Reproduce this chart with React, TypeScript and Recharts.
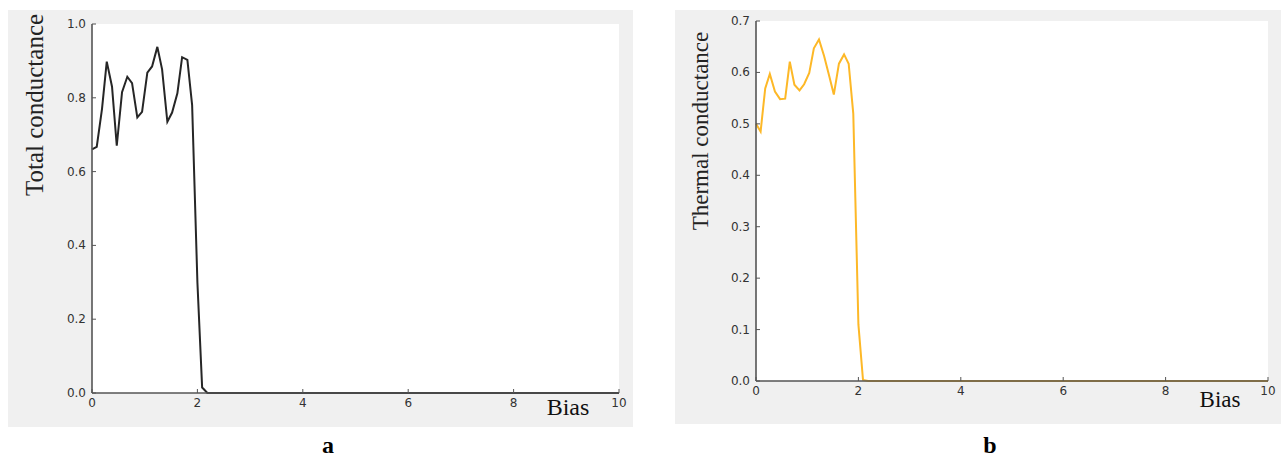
import React from 'react'
import { LineChart, Line, XAxis, YAxis, CartesianGrid } from 'recharts'

// panel a
const biasA = [0, 0.09, 0.19, 0.28, 0.38, 0.47, 0.57, 0.67, 0.76, 0.86, 0.95, 1.05, 1.14, 1.24, 1.33, 1.43, 1.52, 1.62, 1.71, 1.81, 1.9, 2.0, 2.09, 2.19, 10]
const totalConductance = [0.66, 0.667, 0.77, 0.898, 0.83, 0.67, 0.815, 0.857, 0.84, 0.747, 0.762, 0.868, 0.885, 0.938, 0.877, 0.735, 0.76, 0.812, 0.91, 0.903, 0.78, 0.3, 0.015, 0, 0]

// panel b
const biasB = [0, 0.09, 0.18, 0.27, 0.37, 0.47, 0.57, 0.66, 0.75, 0.85, 0.94, 1.04, 1.13, 1.23, 1.33, 1.43, 1.52, 1.62, 1.72, 1.81, 1.9, 2.0, 2.09, 2.19, 10]
const thermalConductance = [0.5, 0.485, 0.569, 0.597, 0.563, 0.548, 0.549, 0.621, 0.576, 0.565, 0.577, 0.599, 0.647, 0.664, 0.632, 0.593, 0.557, 0.617, 0.635, 0.617, 0.52, 0.11, 0.002, 0, 0]

const xTicks = [0, 2, 4, 6, 8, 10]
const yTicksA = [0, 0.2, 0.4, 0.6, 0.8, 1.0]
const yTicksB = [0, 0.1, 0.2, 0.3, 0.4, 0.5, 0.6, 0.7]

const dataA = biasA.map((x, i) => ({ x, y: totalConductance[i] }))
const dataB = biasB.map((x, i) => ({ x, y: thermalConductance[i] }))

const FRAME = '#555'
const tickFont = { fontFamily: 'DejaVu Sans', fontSize: 12, fill: '#333' }

const Tick = (props: any) => {
  const { x, y, payload, side } = props
  const v = payload.value
  if (side === 'bottom') {
    return (
      <g>
        <line x1={x} x2={x} y1={y} y2={y - 4} stroke={FRAME} />
        <text x={x} y={y + 14} textAnchor="middle" {...tickFont}>{String(v)}</text>
      </g>
    )
  }
  if (side === 'left') {
    return (
      <g>
        <line x1={x} x2={x + 4} y1={y} y2={y} stroke={FRAME} />
        <text x={x - 6} y={y + 4} textAnchor="end" {...tickFont}>{v.toFixed(1)}</text>
      </g>
    )
  }
  if (side === 'top') return <line x1={x} x2={x} y1={y} y2={y + 4} stroke={FRAME} />
  return <line x1={x} x2={x - 4} y1={y} y2={y} stroke={FRAME} />
}

type PanelProps = {
  data: Array<{ x: number; y: number }>
  width: number
  height: number
  margin: { top: number; right: number; bottom: number; left: number }
  yMax: number
  yTicks: number[]
  color: string
}

const Panel: React.FC<PanelProps> = ({ data, width, height, margin, yMax, yTicks, color }) => {
  const axisLine = { stroke: FRAME, strokeWidth: 1.6 }
  return (
    <LineChart width={width} height={height} data={data} margin={margin} style={{ background: '#f0f0f0' }}>
      <CartesianGrid fill="#fff" horizontal={false} vertical={false} />
      <XAxis xAxisId="b" dataKey="x" type="number" domain={[0, 10]} ticks={xTicks} height={30}
        axisLine={axisLine} tickLine={false} tickSize={0} tickMargin={0} interval={0}
        tick={(p: any) => <Tick {...p} side="bottom" />} />
      <XAxis xAxisId="t" orientation="top" dataKey="x" type="number" domain={[0, 10]} ticks={xTicks} height={0}
        axisLine={axisLine} tickLine={false} tickSize={0} tickMargin={0} interval={0}
        tick={(p: any) => <Tick {...p} side="top" />} />
      <YAxis yAxisId="l" type="number" domain={[0, yMax]} ticks={yTicks} width={50}
        axisLine={axisLine} tickLine={false} tickSize={0} tickMargin={0} interval={0}
        tick={(p: any) => <Tick {...p} side="left" />} />
      <YAxis yAxisId="r" orientation="right" type="number" domain={[0, yMax]} ticks={yTicks} width={0}
        axisLine={axisLine} tickLine={false} tickSize={0} tickMargin={0} interval={0}
        tick={(p: any) => <Tick {...p} side="right" />} />
      <Line xAxisId="b" yAxisId="l" type="linear" dataKey="y" stroke={color} strokeWidth={2}
        dot={false} isAnimationActive={false} />
    </LineChart>
  )
}

const serif = 'Liberation Serif'

export default function App() {
  return (
    <div style={{ position: 'absolute', left: 0, top: 0, width: 1281, height: 460 }}>
      <div style={{ position: 'absolute', left: 8, top: 10 }}>
        <Panel data={dataA} width={625} height={417} margin={{ top: 14, right: 14, bottom: 4, left: 34 }}
          yMax={1} yTicks={yTicksA} color="#262626" />
      </div>
      <div style={{ position: 'absolute', left: 675, top: 10 }}>
        <Panel data={dataB} width={606} height={414} margin={{ top: 11, right: 13, bottom: 13, left: 31 }}
          yMax={0.7} yTicks={yTicksB} color="#fdb827" />
      </div>
      <svg width={1281} height={460} style={{ position: 'absolute', left: 0, top: 0, pointerEvents: 'none' }}>
        <text x={43} y={105} transform="rotate(-90 43 105)" textAnchor="middle" fontFamily={serif} fontSize={25} fill="#222">Total conductance</text>
        <text x={708} y={131} transform="rotate(-90 708 131)" textAnchor="middle" fontFamily={serif} fontSize={23} fill="#222">Thermal conductance</text>
        <text x={568} y={415} textAnchor="middle" fontFamily={serif} fontSize={24} fill="#111">Bias</text>
        <text x={1220} y={407} textAnchor="middle" fontFamily={serif} fontSize={23} fill="#111">Bias</text>
        <text x={328} y={453} textAnchor="middle" fontFamily={serif} fontWeight="bold" fontSize={24} fill="#000">a</text>
        <text x={990} y={453} textAnchor="middle" fontFamily={serif} fontWeight="bold" fontSize={24} fill="#000">b</text>
      </svg>
    </div>
  )
}
